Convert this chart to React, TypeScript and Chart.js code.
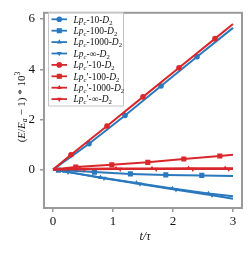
import React, { useEffect, useRef } from 'react';
import { Chart, registerables } from 'chart.js';
Chart.register(...registerables);

const BLUE = '#2a78bd';
const RED = '#d9272c';
const FRAME = '#9a9a9a';

// series: t values and (E/Ea - 1)*10^3 values
const T_BLUE_10 = [0, 0.6, 1.2, 1.8, 2.4, 3.0];
const V_BLUE_10 = [0, 1.03, 2.16, 3.33, 4.5, 5.65];
const T_BLUE_100 = [0, 0.09, 0.69, 1.29, 1.88, 2.48, 3.0];
const V_BLUE_100 = [0, -0.02, -0.1, -0.17, -0.21, -0.23, -0.25];
const T_BLUE_1000 = [0, 0.19, 0.79, 1.39, 1.99, 2.59, 3.0];
const V_BLUE_1000 = [0, -0.07, -0.31, -0.53, -0.75, -0.95, -1.06];
const T_BLUE_INF = [0, 0.25, 0.85, 1.45, 2.05, 2.65, 3.0];
const V_BLUE_INF = [0, -0.1, -0.34, -0.57, -0.8, -1.02, -1.16];

const T_RED_10 = [0, 0.3, 0.9, 1.5, 2.1, 2.7, 3.0];
const V_RED_10 = [0, 0.59, 1.74, 2.9, 4.06, 5.22, 5.8];
const T_RED_100 = [0, 0.38, 0.98, 1.58, 2.18, 2.78, 3.0];
const V_RED_100 = [0, 0.1, 0.19, 0.29, 0.42, 0.54, 0.59];
const T_RED_1000 = [0, 0.45, 1.05, 1.65, 2.26, 2.87, 3.0];
const V_RED_1000 = [0, 0.03, 0.04, 0.04, 0.05, 0.05, 0.05];
const T_RED_INF = [0, 0.52, 1.12, 1.72, 2.33, 2.93, 3.0];
const V_RED_INF = [0, 0.01, 0.02, 0.02, 0.02, 0.02, 0.02];

const SIZES = ['10', '100', '1000', '∞'];
const X_TICKS = [0, 1, 2, 3];
const Y_TICKS = [0, 2, 4, 6];
const X_TITLE = 't/τ';

type Seg = { t: string; it?: boolean; sub?: boolean; sup?: boolean };

function drawRich(ctx: CanvasRenderingContext2D, segs: Seg[], x: number, y: number, fs: number, align: 'left' | 'center') {
  const fam = "'Liberation Serif', serif";
  const fontOf = (s: Seg) => `${s.it ? 'italic ' : ''}${s.sub || s.sup ? fs * 0.7 : fs}px ${fam}`;
  let total = 0;
  for (const s of segs) { ctx.font = fontOf(s); total += ctx.measureText(s.t).width; }
  let cx = align === 'center' ? x - total / 2 : x;
  ctx.textBaseline = 'alphabetic';
  ctx.textAlign = 'left';
  for (const s of segs) {
    ctx.font = fontOf(s);
    const dy = s.sub ? fs * 0.22 : s.sup ? -fs * 0.42 : 0;
    ctx.fillText(s.t, cx, y + dy);
    cx += ctx.measureText(s.t).width;
  }
}

function legendSegs(size: string, prime: boolean): Seg[] {
  const segs: Seg[] = [{ t: 'Lp', it: true }, { t: 'c', it: true, sub: true }];
  if (prime) segs.push({ t: '\u2032' });
  segs.push({ t: `-${size}-` }, { t: 'D', it: true }, { t: '2', sub: true });
  return segs;
}

const STYLES = ['circle', 'rect', 'triangle', 'triangle'];
const ROTS = [0, 0, 0, 180];
const RADII = [2.8, 3.6, 2.8, 2.8];

function drawMarker(ctx: CanvasRenderingContext2D, style: string, rot: number, r: number, x: number, y: number) {
  ctx.beginPath();
  if (style === 'circle') {
    ctx.arc(x, y, r, 0, Math.PI * 2);
  } else if (style === 'rect') {
    const s = Math.SQRT1_2 * r;
    ctx.rect(x - s, y - s, 2 * s, 2 * s);
  } else {
    const sign = rot === 180 ? -1 : 1;
    ctx.moveTo(x, y - sign * r);
    ctx.lineTo(x + r * 0.87, y + sign * r * 0.5);
    ctx.lineTo(x - r * 0.87, y + sign * r * 0.5);
    ctx.closePath();
  }
  ctx.fill();
}

const App = () => {
  const ref = useRef<HTMLCanvasElement>(null);
  useEffect(() => {
    document.body.style.margin = '0';
    const blueT = [T_BLUE_10, T_BLUE_100, T_BLUE_1000, T_BLUE_INF];
    const blueV = [V_BLUE_10, V_BLUE_100, V_BLUE_1000, V_BLUE_INF];
    const redT = [T_RED_10, T_RED_100, T_RED_1000, T_RED_INF];
    const redV = [V_RED_10, V_RED_100, V_RED_1000, V_RED_INF];
    const mk = (ts: number[], vs: number[], color: string, i: number, order: number) => ({
      data: ts.map((t, k) => ({ x: t, y: vs[k] })),
      borderColor: color,
      backgroundColor: color,
      borderWidth: 2,
      pointStyle: STYLES[i] as any,
      pointRotation: ROTS[i],
      pointBorderWidth: 0,
      pointRadius: (c: any) => (c.dataIndex === 0 || c.dataIndex === ts.length - 1 ? 0 : RADII[i]),
      tension: 0,
      order,
    });
    const datasets = [
      ...blueT.map((t, i) => mk(t, blueV[i], BLUE, i, 1)),
      ...redT.map((t, i) => mk(t, redV[i], RED, i, 0)),
    ];

    const deco = {
      id: 'deco',
      afterDatasetsDraw(chart: any) {
        const ctx = chart.ctx as CanvasRenderingContext2D;
        const a = chart.chartArea;
        ctx.save();
        ctx.strokeStyle = FRAME;
        ctx.lineWidth = 2;
        ctx.strokeRect(a.left, a.top, a.right - a.left, a.bottom - a.top);
        // legend
        const lx = 48, ly = 12.5, lw = 75, lh = 93;
        ctx.fillStyle = 'rgba(255,255,255,0.85)';
        ctx.fillRect(lx, ly, lw, lh);
        ctx.strokeStyle = '#c4c4c4';
        ctx.lineWidth = 1;
        ctx.strokeRect(lx + 0.5, ly + 0.5, lw, lh);
        const rows: { color: string; i: number; prime: boolean }[] = [];
        for (let i = 0; i < 4; i++) rows.push({ color: BLUE, i, prime: false });
        for (let i = 0; i < 4; i++) rows.push({ color: RED, i, prime: true });
        rows.forEach((r, k) => {
          const y = 19.3 + k * 11.4;
          ctx.strokeStyle = r.color;
          ctx.lineWidth = 1.8;
          ctx.beginPath();
          ctx.moveTo(51.5, y);
          ctx.lineTo(67, y);
          ctx.stroke();
          ctx.fillStyle = r.color;
          drawMarker(ctx, STYLES[r.i], ROTS[r.i], RADII[r.i], 59.3, y);
          ctx.fillStyle = '#111';
          drawRich(ctx, legendSegs(SIZES[r.i], r.prime), 73.5, y + 3.3, 9.5, 'left');
        });
        // y title
        ctx.save();
        ctx.translate(21, 107);
        ctx.rotate(-Math.PI / 2);
        ctx.fillStyle = '#111';
        drawRich(ctx, [
          { t: '(' }, { t: 'E', it: true }, { t: '/' }, { t: 'E', it: true }, { t: 'a', it: true, sub: true },
          { t: ' \u2212 1) * 10' }, { t: '3', sup: true },
        ], 0, 4, 11, 'center');
        ctx.restore();
        // x title
        ctx.fillStyle = '#111';
        ctx.font = "italic 12px 'Liberation Serif', serif";
        ctx.textAlign = 'center';
        ctx.textBaseline = 'middle';
        ctx.fillText(X_TITLE, 145, 237);
        ctx.restore();
      },
    };

    const tickFont = { family: "'Liberation Serif', serif", size: 13 };
    const chart = new Chart(ref.current!, {
      type: 'line',
      data: { datasets: datasets as any },
      options: {
        animation: false,
        responsive: false,
        layout: { padding: { top: 9, right: 10, left: 0, bottom: 0 } },
        plugins: { legend: { display: false }, tooltip: { enabled: false } },
        scales: {
          x: {
            type: 'linear',
            min: -0.15,
            max: 3.15,
            afterBuildTicks: (s: any) => { s.ticks = X_TICKS.map((v) => ({ value: v })); },
            afterFit: (s: any) => { s.height = 47; },
            ticks: { font: tickFont, color: '#111', padding: 2, maxRotation: 0, autoSkip: false },
            grid: { display: true, drawOnChartArea: false, drawTicks: true, tickLength: 4, color: FRAME, lineWidth: 1.5 },
            border: { display: false },
          },
          y: {
            type: 'linear',
            min: -1.53,
            max: 6.25,
            afterBuildTicks: (s: any) => { s.ticks = Y_TICKS.map((v) => ({ value: v })); },
            afterFit: (s: any) => { s.width = 44; },
            ticks: { font: tickFont, color: '#111', padding: 5, autoSkip: false },
            grid: { display: true, drawOnChartArea: false, drawTicks: true, tickLength: 4, color: FRAME, lineWidth: 1.5 },
            border: { display: false },
          },
        },
      },
      plugins: [deco],
    });
    return () => chart.destroy();
  }, []);
  return (
    <div style={{ width: 252, height: 255, background: '#fff' }}>
      <canvas ref={ref} width={252} height={255} style={{ display: 'block' }} />
    </div>
  );
};

export default App;
